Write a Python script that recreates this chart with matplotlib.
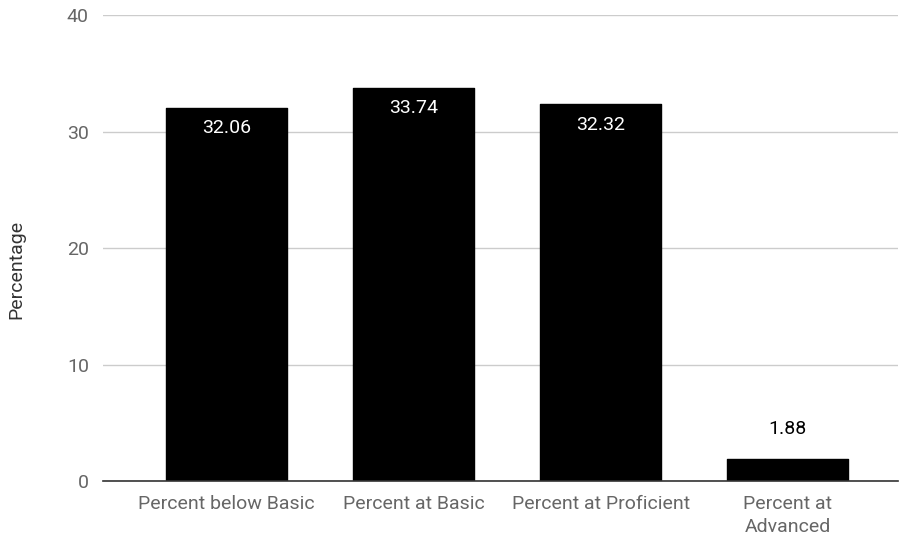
import matplotlib
matplotlib.use("Agg")
import matplotlib.pyplot as plt

categories = ["Percent below Basic", "Percent at Basic", "Percent at Proficient", "Percent at\nAdvanced"]
values = [32.06, 33.74, 32.32, 1.88]
yticks = [0, 10, 20, 30, 40]
ylabel = "Percentage"

plt.rcParams['font.family'] = ['Roboto', 'DejaVu Sans']
FS = 14

fig = plt.figure(figsize=(9.01, 5.37), dpi=100)
ax = fig.add_axes([0.114, 0.1043, 0.883, 0.8677])

x = list(range(len(categories)))
bars = ax.bar(x, values, width=0.645, color='black', edgecolor='black',
              linewidth=1.0, joinstyle='round', zorder=3)

ax.set_xlim(-0.66, 3.59)
ax.set_ylim(0, 40)
ax.set_yticks(yticks)
ax.set_xticks(x)
ax.set_xticklabels(categories, fontsize=FS, color='#666666', linespacing=1.35)
ax.set_yticklabels([str(t) for t in yticks], fontsize=FS, color='#666666')
ax.tick_params(axis='y', length=0, pad=10)
ax.tick_params(axis='x', length=0, pad=10)

ax.grid(axis='y', color='#cccccc', linewidth=1, zorder=0)
for s in ['top', 'right', 'left']:
    ax.spines[s].set_visible(False)
ax.spines['bottom'].set_color('#333333')
ax.spines['bottom'].set_linewidth(1.2)
ax.spines['bottom'].set_zorder(4)

ax.set_ylabel(ylabel, fontsize=FS, color='#333333')
ax.yaxis.set_label_coords(-0.097, 0.453)

for xi, v in zip(x, values):
    if v > 5:
        ax.annotate(f"{v:.2f}", (xi, v), xytext=(0, -8), textcoords='offset points',
                    ha='center', va='top', color='white', fontsize=FS, zorder=5)
    else:
        ax.annotate(f"{v:.2f}", (xi, v), xytext=(0, 15), textcoords='offset points',
                    ha='center', va='bottom', color='black', fontsize=FS, zorder=5)

fig.savefig("out.png", dpi=100)
